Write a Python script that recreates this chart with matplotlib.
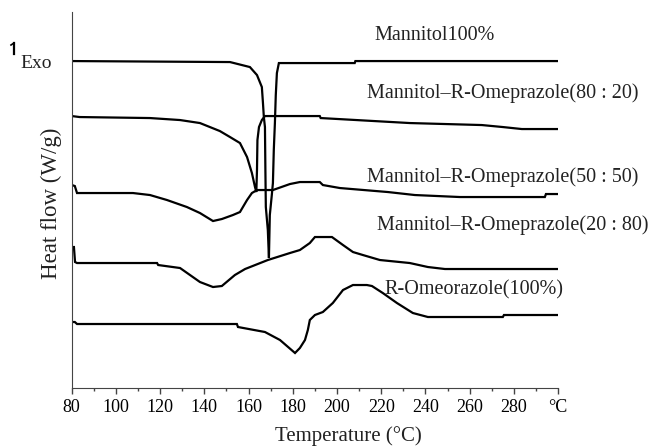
import matplotlib
matplotlib.use("Agg")
import matplotlib.pyplot as plt
from matplotlib.lines import Line2D

plt.rcParams['font.family'] = ['Liberation Serif', 'DejaVu Serif']

# temperature (deg C) / heat flow (arbitrary units, curves offset)
t_man = [80, 151.6, 160.6, 163.8, 166.0, 166.5, 166.9, 167.4, 167.6, 167.8, 168.7, 169.2,
         169.6, 170.5, 171.0, 171.4, 171.9, 172.3, 172.8, 173.7, 208, 208.3, 300]
hf_man = [327, 326, 321, 313, 301, 285, 271, 261, 218, 181, 158, 130,
          173, 193, 205, 238, 265, 293, 315, 325, 325, 327, 327]

t_8020 = [80, 83.6, 115.4, 129, 138, 147, 151.6, 156.1, 159.3, 161.5, 162.9, 163.5,
          163.8, 164.0, 164.7, 166.0, 167.4, 192.2, 192.6, 232.9, 265.5, 275, 283.6, 300]
hf_8020 = [272, 271, 270, 268, 265, 257, 251, 245, 231, 215, 201, 196,
           218, 248, 261, 268, 272, 272, 270, 265, 263, 261, 259, 259]

t_5050 = [80.1, 81.4, 82.4, 107.7, 115.4, 123.1, 132.1, 138, 143.9, 147.9, 152.9, 156.1,
          159.3, 161.5, 163.8, 171.0, 178.7, 183.2, 192.2, 193.6, 201.3, 223, 235.2,
          255.6, 294, 294.5, 300]
hf_5050 = [203, 202, 195, 195, 193, 188, 181, 175, 167, 169, 173, 176,
           188, 195, 198, 198, 204, 206, 206, 203, 200, 196, 193,
           191, 191, 194, 194]

t_2080 = [80.1, 81, 81.5, 82.4, 118.6, 119.1, 129, 138, 143.9, 147.9, 153.8, 158.4,
          168.7, 178.7, 183.2, 187.7, 190, 197.7, 202.7, 207.2, 211.7, 219.4, 232.9,
          241.1, 248.8, 300]
hf_2080 = [141, 141, 126, 125, 125, 123, 120, 106, 101, 102, 113, 119,
           128, 135, 138, 145, 151, 151, 143, 136, 133, 128, 125,
           121, 119, 119]

t_rome = [80.1, 81.4, 82.4, 154.7, 155.2, 167.4, 174.2, 181, 183.2, 185.5, 186.8, 187.7,
          190, 193.6, 198.1, 202.7, 207.2, 213.5, 215.8, 220.7, 227.1, 234.3, 241.1,
          275, 275.5, 300]
hf_rome = [66, 66, 64, 64, 61, 56, 48, 35, 40, 48, 58, 68,
           73, 76, 85, 98, 103, 103, 102, 95, 85, 75, 71,
           71, 73, 73]

series = [(t_man, hf_man), (t_8020, hf_8020), (t_5050, hf_5050),
          (t_2080, hf_2080), (t_rome, hf_rome)]

labels = ['Mannitol100%', 'Mannitol\u2013R-Omeprazole(80 : 20)',
          'Mannitol\u2013R-Omeprazole(50 : 50)', 'Mannitol\u2013R-Omeprazole(20 : 80)',
          'R-Omeorazole(100%)']
label_xy = [(217.1, 353), (213.5, 295), (213.5, 211), (218.0, 163), (221.6, 98)]

xticks = [80, 100, 120, 140, 160, 180, 200, 220, 240, 260, 280, 300]
xticklabels = ['80', '100', '120', '140', '160', '180', '200', '220', '240', '260', '280', '\u00b0C']

fig = plt.figure(figsize=(6.52, 4.47), dpi=100)
ax = fig.add_axes([0.110, 0.132, 0.746, 0.841])

for t, hf in series:
    ax.plot(t, hf, color='black', lw=1.6, solid_joinstyle='miter')

for lab, (x, y) in zip(labels, label_xy):
    ax.text(x, y, lab, fontsize=14.5, ha='left', va='center', color='#222222')

ax.set_xlim(80, 300)
ax.set_ylim(0, 376)
ax.spines['top'].set_visible(False)
ax.spines['right'].set_visible(False)
ax.spines['left'].set_color('#444444')
ax.spines['bottom'].set_color('#444444')
ax.set_yticks([])
ax.set_xticks(xticks)
ax.set_xticklabels(xticklabels, fontsize=13)
ax.set_xticks(range(90, 300, 20), minor=True)
ax.tick_params(axis='x', which='major', length=4, width=1, color='#444444', pad=4)
ax.tick_params(axis='x', which='minor', length=2.5, width=1, color='#444444')

ax.set_ylabel('Heat flow (W/g)', fontsize=16.5, color='#222222')
ax.yaxis.set_label_coords(-0.019, 0.49)
fig.text(348 / 652, 1 - 436 / 447, 'Temperature (\u00b0C)', fontsize=15,
         ha='center', va='center', color='#222222')

# exo marker
fig.text(20 / 652, 1 - 63 / 447, 'Exo', fontsize=14, ha='left', va='center', color='#222222')
fig.add_artist(Line2D([14 / 652, 14 / 652], [1 - 54 / 447, 1 - 43 / 447],
                      transform=fig.transFigure, color='black', lw=1.6))
fig.add_artist(Line2D([11 / 652, 14 / 652], [1 - 45 / 447, 1 - 43 / 447],
                      transform=fig.transFigure, color='black', lw=1.2))

fig.savefig('out.png', dpi=100)
